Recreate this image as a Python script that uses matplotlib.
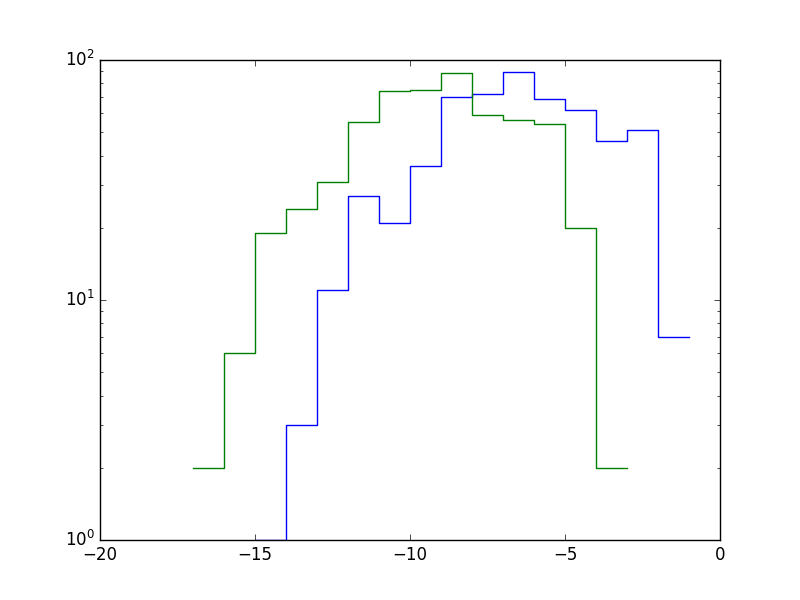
import matplotlib
matplotlib.use("Agg")
import matplotlib.pyplot as plt

plt.style.use("classic")

# ----------------------- Data (bin edges and counts) -----------------------
blue_edges = [-15, -14, -13, -12, -11, -10, -9, -8, -7, -6, -5, -4, -3, -2, -1]
blue_counts = [1, 3, 11, 27, 21, 36, 70, 72, 89, 69, 62, 46, 51, 7]

green_edges = [-17, -16, -15, -14, -13, -12, -11, -10, -9, -8, -7, -6, -5, -4, -3]
green_counts = [2, 6, 19, 24, 31, 55, 74, 75, 88, 59, 56, 54, 20, 2]

# ----------------------- Plotting -----------------------
fig = plt.figure(figsize=(8, 6))
ax = fig.add_subplot(111)

ax.plot(blue_edges, blue_counts + blue_counts[-1:], drawstyle="steps-post", color="b")
ax.plot(green_edges, green_counts + green_counts[-1:], drawstyle="steps-post", color="g")

ax.set_yscale("log")
ax.set_xlim(-20, 0)
ax.set_ylim(1, 100)

fig.savefig("out.png", dpi=100)
